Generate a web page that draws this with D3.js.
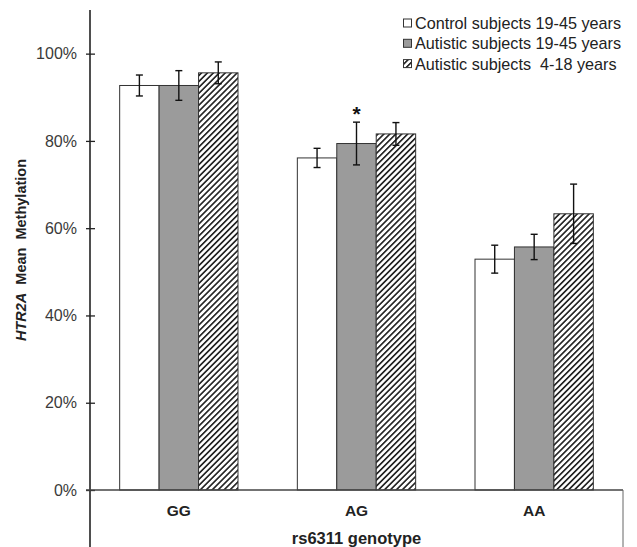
<!DOCTYPE html>
<html>
<head>
<meta charset="utf-8">
<script src="https://cdn.jsdelivr.net/npm/d3@7"></script>
<style>
  body { margin: 0; background: #fff; }
  svg { font-family: "Liberation Sans", Arial, sans-serif; }
</style>
</head>
<body>
<svg id="chart" width="637" height="547"></svg>
<script>
// genotype groups and the three subject series
let genotypes = ['GG', 'AG', 'AA'];
let series = ['Control subjects 19-45 years', 'Autistic subjects 19-45 years', 'Autistic subjects  4-18 years'];
let controlAdult = [0.927, 0.761, 0.529];
let autisticAdult = [0.927, 0.794, 0.557];
let autisticChild = [0.956, 0.816, 0.633];
let controlAdultErr = [0.024, 0.022, 0.032];
let autisticAdultErr = [0.034, 0.049, 0.029];
let autisticChildErr = [0.025, 0.026, 0.068];
let yTicks = [0, 0.2, 0.4, 0.6, 0.8, 1.0];
let starred = [[1, 1]]; // [genotype index, series index]

var config = {
    left: 90,
    right: 623,
    top: 10,
    bottom: 490
}

let svg = d3.select('#chart');

// hatch pattern for the child group
let defs = svg.append('defs');
defs.append('pattern')
    .attr('id', 'hatch')
    .attr('patternUnits', 'userSpaceOnUse')
    .attr('width', 4.2)
    .attr('height', 10)
    .attr('patternTransform', 'rotate(45)')
    .call(function(p){
        p.append('rect').attr('width', 4.2).attr('height', 10).attr('fill', '#fff');
        p.append('line')
            .attr('x1', 0.8).attr('x2', 0.8)
            .attr('y1', 0).attr('y2', 10)
            .attr('stroke', '#222')
            .attr('stroke-width', 1.7);
    });

let fills = ['#fff', '#9b9b9b', 'url(#hatch)'];

let x = d3.scaleBand()
    .domain(genotypes)
    .range([config.left, config.right])
    .paddingInner(0.334)
    .paddingOuter(0.167);

let xs = d3.scaleBand()
    .domain(d3.range(series.length))
    .range([0, x.bandwidth()]);

let y = d3.scaleLinear()
    .domain([0, 1.1])
    .range([config.bottom, config.top]);

let rows = [];
let values = [controlAdult, autisticAdult, autisticChild];
let errs = [controlAdultErr, autisticAdultErr, autisticChildErr];
genotypes.forEach(function(g, i){
    for(let s = 0; s < series.length; s++){
        rows.push({g: g, gi: i, s: s, v: values[s][i], e: errs[s][i]});
    }
});

// bars
svg.append('g')
    .selectAll('rect')
    .data(rows)
    .join('rect')
    .attr('x', d => x(d.g) + xs(d.s))
    .attr('y', d => y(d.v))
    .attr('width', xs.bandwidth())
    .attr('height', d => y(0) - y(d.v))
    .attr('fill', d => fills[d.s])
    .attr('stroke', '#333')
    .attr('stroke-width', 1);

// error bars
let eb = svg.append('g')
    .selectAll('g')
    .data(rows)
    .join('g')
    .attr('transform', d => 'translate(' + (x(d.g) + xs(d.s) + xs.bandwidth() / 2) + ',0)')
    .attr('stroke', '#111')
    .attr('stroke-width', 1.4);
eb.append('line')
    .attr('y1', d => y(d.v + d.e))
    .attr('y2', d => y(d.v - d.e));
eb.append('line')
    .attr('x1', -3.5).attr('x2', 3.5)
    .attr('y1', d => y(d.v + d.e))
    .attr('y2', d => y(d.v + d.e));
eb.append('line')
    .attr('x1', -3.5).attr('x2', 3.5)
    .attr('y1', d => y(d.v - d.e))
    .attr('y2', d => y(d.v - d.e));

// significance star
svg.append('g')
    .selectAll('text')
    .data(starred)
    .join('text')
    .attr('x', d => x(genotypes[d[0]]) + xs(d[1]) + xs.bandwidth() / 2)
    .attr('y', d => y(values[d[1]][d[0]] + errs[d[1]][d[0]]) - 1)
    .attr('text-anchor', 'middle')
    .attr('font-size', 21)
    .attr('font-weight', 'bold')
    .attr('fill', '#111')
    .text('*');

// y axis
let yAxis = svg.append('g')
    .attr('transform', 'translate(' + config.left + ',0)')
    .call(d3.axisLeft(y).tickValues(yTicks).tickFormat(d3.format('.0%')).tickSize(0).tickPadding(13));
yAxis.select('.domain').remove();
yAxis.selectAll('text')
    .attr('font-size', 16)
    .attr('font-family', '"Liberation Sans", Arial, sans-serif')
    .attr('fill', '#3a3a3a');
yAxis.selectAll('.tick')
    .append('line')
    .attr('x1', -4).attr('x2', 5)
    .attr('stroke', '#222')
    .attr('stroke-width', 1.3);

// axis lines
svg.append('line')
    .attr('x1', config.left).attr('x2', config.left)
    .attr('y1', config.top).attr('y2', 547)
    .attr('stroke', '#222').attr('stroke-width', 1.6);
svg.append('line')
    .attr('x1', config.left - 4).attr('x2', config.right)
    .attr('y1', y(0)).attr('y2', y(0))
    .attr('stroke', '#444').attr('stroke-width', 1.3);
svg.append('line')
    .attr('x1', config.right).attr('x2', config.right)
    .attr('y1', y(0)).attr('y2', 547)
    .attr('stroke', '#666').attr('stroke-width', 1);

// category labels
svg.append('g')
    .selectAll('text')
    .data(genotypes)
    .join('text')
    .attr('x', d => x(d) + x.bandwidth() / 2)
    .attr('y', 516)
    .attr('text-anchor', 'middle')
    .attr('font-size', 15.5)
    .attr('font-weight', 'bold')
    .attr('fill', '#222')
    .text(d => d);

svg.append('text')
    .attr('x', (config.left + config.right) / 2)
    .attr('y', 544)
    .attr('text-anchor', 'middle')
    .attr('font-size', 16.5)
    .attr('font-weight', 'bold')
    .attr('fill', '#222')
    .text('rs6311 genotype');

// y title
let yt = svg.append('text')
    .attr('transform', 'translate(26,' + ((config.top + config.bottom) / 2) + ') rotate(-90)')
    .attr('text-anchor', 'middle')
    .attr('font-size', 14.5)
    .attr('font-weight', 'bold')
    .attr('fill', '#222')
    .attr('xml:space', 'preserve');
yt.append('tspan').attr('font-style', 'italic').text('HTR2A');
yt.append('tspan').text('  Mean  Methylation');

// legend
let legend = svg.append('g')
    .selectAll('g')
    .data(series)
    .join('g')
    .attr('transform', (d, i) => 'translate(403,' + (23 + i * 20.3) + ')');
legend.append('rect')
    .attr('x', 0.5).attr('y', -4)
    .attr('width', 8).attr('height', 8)
    .attr('fill', (d, i) => fills[i])
    .attr('stroke', '#333')
    .attr('stroke-width', 1);
legend.append('text')
    .attr('x', 12)
    .attr('y', 6)
    .attr('font-size', 16.2)
    .attr('fill', '#222')
    .attr('xml:space', 'preserve')
    .text(d => d);
</script>
</body>
</html>
